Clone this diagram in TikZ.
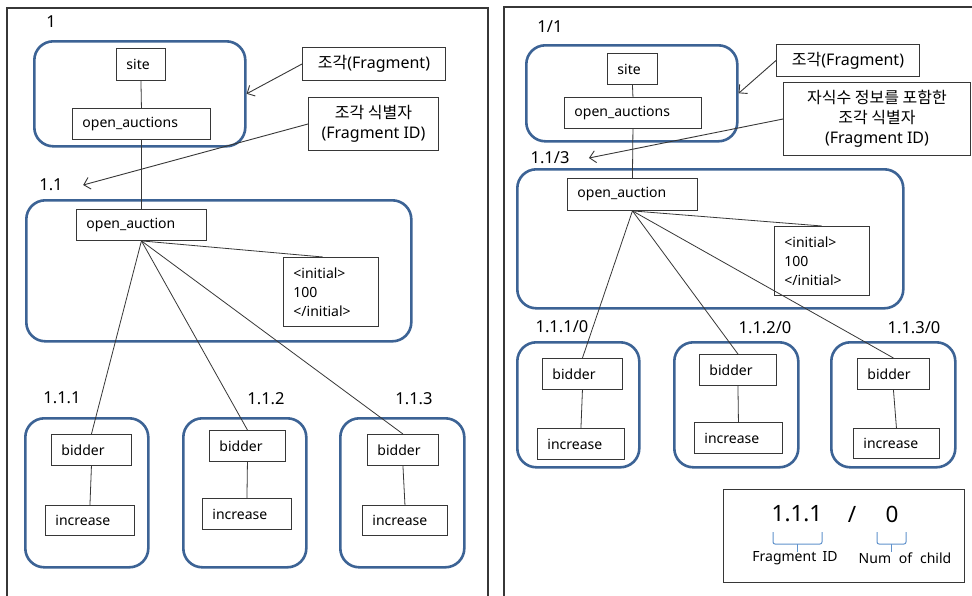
\documentclass[tikz,border=0pt]{standalone}
\usepackage{fontspec}
\setmainfont{Noto Sans}
\newfontfamily\kr{Noto Sans CJK KR}
\usetikzlibrary{arrows.meta}
\definecolor{fragblue}{RGB}{60,99,149}
\definecolor{braceblue}{RGB}{96,146,204}
\definecolor{inkgray}{RGB}{55,55,55}
\tikzset{
  panel/.style={draw=inkgray, line width=1.2pt},
  frag/.style={draw=fragblue, line width=2.6pt, rounded corners=19pt, anchor=north west, inner sep=0pt},
  elem/.style={draw=inkgray, line width=0.9pt, anchor=north west, inner xsep=10pt, inner ysep=0pt,
    align=left, font=\fontsize{14}{19}\selectfont},
  callout/.style={draw=inkgray, line width=1pt, anchor=north west, inner sep=0pt, align=center,
    font=\fontsize{16}{20}\selectfont},
  fid/.style={font=\fontsize{16.5}{18}\selectfont},
  edge/.style={draw=inkgray, line width=0.8pt},
  pointer/.style={draw=inkgray, line width=0.9pt, -{Straight Barb[length=6pt,width=12pt]}}
}
\begin{document}
\begin{tikzpicture}[x=1pt,y=-1pt]
\clip (0,0) rectangle (972,595);
\fill[white] (0,0) rectangle (972,595);

% two panels, open towards the page edge
\draw[panel] (7,8) rectangle (488,620);
\draw[panel] (504,7) rectangle (990,620);

% ---------------- left: plain fragment IDs ----------------
\node[frag, minimum width=211pt, minimum height=105pt] (fL1) at (33,40) {};
\node[frag, minimum width=385pt, minimum height=141pt] (fL11) at (25,199) {};
\node[frag, minimum width=123pt, minimum height=149pt] (fL111) at (24,417) {};
\node[frag, minimum width=123pt, minimum height=149pt] (fL112) at (182,417) {};
\node[frag, minimum width=124pt, minimum height=149pt] (fL113) at (339,417) {};

\node[fid] (labL1) at (51,22) {1};
\node[fid] (labL11) at (51,185) {1.1};
\node[fid] (labL111) at (62,398) {1.1.1};
\node[fid] (labL112) at (266,399) {1.1.2};
\node[fid] (labL113) at (414,399) {1.1.3};

\node[elem, minimum width=49pt, minimum height=32pt, text width=29pt] (siteL) at (116,48) {site};
\node[elem, minimum width=138pt, minimum height=31pt, text width=118pt] (oasL) at (72,108) {open\_auctions};
\node[elem, minimum width=130pt, minimum height=31pt, text width=110pt] (oaL) at (76,209) {open\_auction};
\node[elem, minimum width=95pt, minimum height=69pt, text width=75pt] (initL) at (283,257) {<initial>\\100\\</initial>};
\node[elem, minimum width=80pt, minimum height=31pt, text width=60pt] (bidL1) at (51,434) {bidder};
\node[elem, minimum width=89pt, minimum height=30pt, text width=69pt] (incL1) at (45,505) {increase};
\node[elem, minimum width=76pt, minimum height=31pt, text width=56pt] (bidL2) at (209,430) {bidder};
\node[elem, minimum width=89pt, minimum height=31pt, text width=69pt] (incL2) at (202,498) {increase};
\node[elem, minimum width=71pt, minimum height=31pt, text width=51pt] (bidL3) at (367,434) {bidder};
\node[elem, minimum width=85pt, minimum height=30pt, text width=65pt] (incL3) at (362,505) {increase};

\draw[edge] (siteL.south) -- (oasL.north);
\draw[edge] (oasL.south) -- (oaL.north);
\draw[edge] (oaL.south) -- ([xshift=-8pt]initL.north);
\draw[edge] (oaL.south) -- (bidL1.north);
\draw[edge] (oaL.south) -- (bidL2.north);
\draw[edge] (oaL.south) -- (bidL3.north);
\draw[edge] (bidL1.south) -- (incL1.north);
\draw[edge] (bidL2.south) -- (incL2.north);
\draw[edge] (bidL3.south) -- (incL3.north);

\node[callout, minimum width=143pt, minimum height=33pt] (cL1) at (302,47) {{\kr 조각}(Fragment)};
\node[callout, minimum width=130pt, minimum height=53pt] (cL2) at (308,97) {{\kr 조각 식별자}\\(Fragment ID)};
\draw[pointer] (cL1.west) -- (fL1.east);
\draw[pointer] (cL2.west) -- ([xshift=17pt]labL11.east);

% ---------------- right: IDs with number of children ----------------
\node[frag, minimum width=211pt, minimum height=96pt] (fR1) at (525,44) {};
\node[frag, minimum width=386pt, minimum height=139pt] (fR11) at (516,168) {};
\node[frag, minimum width=122pt, minimum height=125pt] (fR111) at (516,341) {};
\node[frag, minimum width=124pt, minimum height=125pt] (fR112) at (673,341) {};
\node[frag, minimum width=124pt, minimum height=125pt] (fR113) at (830,341) {};

\node[fid] (labR1) at (550,27) {1/1};
\node[fid] (labR11) at (550,158) {1.1/3};
\node[fid] (labR111) at (562,327) {1.1.1/0};
\node[fid] (labR112) at (765,328) {1.1.2/0};
\node[fid] (labR113) at (914,328) {1.1.3/0};

\node[elem, minimum width=50pt, minimum height=31pt, text width=30pt] (siteR) at (607,53) {site};
\node[elem, minimum width=137pt, minimum height=31pt, text width=117pt] (oasR) at (564,97) {open\_auctions};
\node[elem, minimum width=130pt, minimum height=32pt, text width=110pt] (oaR) at (567,178) {open\_auction};
\node[elem, minimum width=95pt, minimum height=69pt, text width=75pt] (initR) at (774,226) {<initial>\\100\\</initial>};
\node[elem, minimum width=80pt, minimum height=31pt, text width=60pt] (bidR1) at (542,358) {bidder};
\node[elem, minimum width=87pt, minimum height=31pt, text width=67pt] (incR1) at (537,428) {increase};
\node[elem, minimum width=77pt, minimum height=31pt, text width=57pt] (bidR2) at (699,354) {bidder};
\node[elem, minimum width=88pt, minimum height=31pt, text width=68pt] (incR2) at (694,422) {increase};
\node[elem, minimum width=72pt, minimum height=31pt, text width=52pt] (bidR3) at (857,358) {bidder};
\node[elem, minimum width=86pt, minimum height=30pt, text width=66pt] (incR3) at (853,428) {increase};

\draw[edge] (siteR.south) -- (oasR.north);
\draw[edge] (oasR.south) -- (oaR.north);
\draw[edge] (oaR.south) -- (initR.north);
\draw[edge] (oaR.south) -- (bidR1.north);
\draw[edge] (oaR.south) -- (bidR2.north);
\draw[edge] (oaR.south) -- (bidR3.north);
\draw[edge] (bidR1.south) -- (incR1.north);
\draw[edge] (bidR2.south) -- (incR2.north);
\draw[edge] (bidR3.south) -- (incR3.north);

\node[callout, minimum width=143pt, minimum height=32pt] (cR1) at (776,44) {{\kr 조각}(Fragment)};
\node[callout, minimum width=187pt, minimum height=73pt] (cR2) at (783,82) {{\kr 자식수 정보를 포함한}\\{\kr 조각 식별자}\\(Fragment ID)};
\draw[pointer] (cR1.west) -- (fR1.east);
\draw[pointer] (cR2.west) -- ([xshift=16pt]labR11.east);

% ---------------- legend ----------------
\node[draw=inkgray, line width=1pt, anchor=north west, minimum width=241pt, minimum height=93pt] (legend) at (723,489) {};
\node[font=\fontsize{22.5}{24}\selectfont] (lgid) at (797,514) {1.1.1};
\node[font=\fontsize{22.5}{24}\selectfont] (lgsl) at (852,514) {/};
\node[font=\fontsize{22.5}{24}\selectfont] (lgnc) at (892,514) {0};
\node[font=\fontsize{14}{16}\selectfont] (lgidt) at (795,558) {Fragment\hspace{0.45em}ID};
\node[font=\fontsize{14}{16}\selectfont] (lgnct) at (905,558) {Num\hspace{0.3em} of\hspace{0.3em} child};
\draw[braceblue, line width=1pt, rounded corners=2pt]
  (773,532) -- (773,544) -- (822,544) -- (822,532);
\draw[braceblue, line width=1pt] (797.5,544) -- (797.5,552);
\draw[braceblue, line width=1pt, rounded corners=2pt]
  (877,532) -- (877,544) -- (906,544) -- (906,532);
\draw[braceblue, line width=1pt] (891.5,544) -- (891.5,552);
\end{tikzpicture}
\end{document}
